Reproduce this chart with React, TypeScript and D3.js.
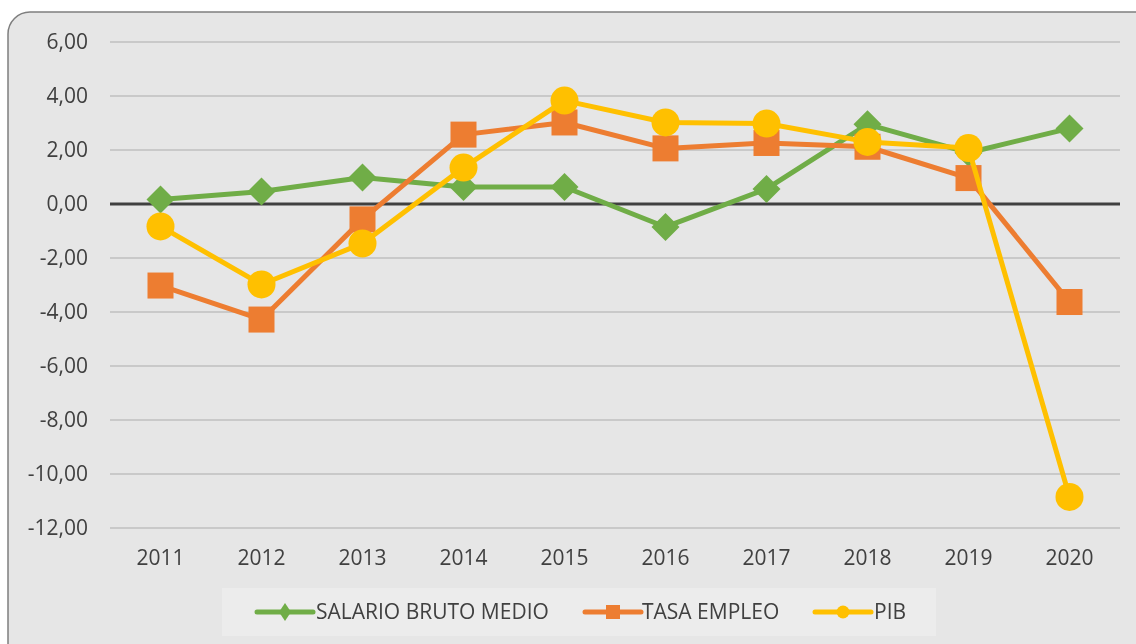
import React from 'react';
import * as d3 from 'd3';

const years = ['2011', '2012', '2013', '2014', '2015', '2016', '2017', '2018', '2019', '2020'];
const salario = [0.17, 0.46, 0.98, 0.63, 0.63, -0.85, 0.56, 2.95, 1.9, 2.8];
const tasaEmpleo = [-3.02, -4.28, -0.57, 2.57, 3.02, 2.06, 2.26, 2.12, 0.96, -3.63];
const pib = [-0.83, -2.98, -1.46, 1.35, 3.83, 3.02, 2.98, 2.3, 2.07, -10.85];
const yTicks = [6, 4, 2, 0, -2, -4, -6, -8, -10, -12];

const W = 1136;
const H = 644;
const font = '"Open Sans", sans-serif';

const series = [
  { name: 'SALARIO BRUTO MEDIO', values: salario, color: '#70ad47', marker: 'diamond' },
  { name: 'TASA EMPLEO', values: tasaEmpleo, color: '#ed7d31', marker: 'square' },
  { name: 'PIB', values: pib, color: '#ffc000', marker: 'circle' },
];

const Marker: React.FC<{ kind: string; x: number; y: number; color: string; s: number; sx?: number }> = ({ kind, x, y, color, s, sx }) => {
  if (kind === 'diamond') {
    const w = sx ?? s;
    return <path d={`M${x},${y - s}L${x + w},${y}L${x},${y + s}L${x - w},${y}Z`} fill={color} />;
  }
  if (kind === 'square') {
    return <rect x={x - s} y={y - s} width={s * 2} height={s * 2} fill={color} />;
  }
  return <circle cx={x} cy={y} r={s} fill={color} />;
};

const App: React.FC = () => {
  const x = d3.scaleBand<string>().domain(years).range([110, 1120]);
  const y = d3.scaleLinear().domain([-12, 6]).range([528, 42]);
  const fmt = (v: number) => d3.format('.2f')(v).replace('.', ',').replace('−', '-');

  const line = d3.line<number>()
    .x((_, i) => (x(years[i]) as number) + x.bandwidth() / 2)
    .y((d) => y(d));

  const legendItems = [
    { lx: 257, tx: 316 },
    { lx: 585, tx: 642 },
    { lx: 815, tx: 874 },
  ];

  return (
    <div style={{ position: 'fixed', left: 0, top: 0 }}>
      <svg width={W} height={H} style={{ display: 'block' }}>
        <rect x={8} y={12} width={W + 20} height={H + 20} rx={22} ry={22}
          fill="#e6e6e6" stroke="#7f7f7f" strokeWidth={1.5} />

        {yTicks.map((t) => (
          <g key={t}>
            <line x1={110} x2={1120} y1={y(t)} y2={y(t)}
              stroke={t === 0 ? '#404040' : '#bfbfbf'} strokeWidth={t === 0 ? 3 : 1.5} />
            <text x={88} y={y(t)} dy="0.35em" textAnchor="end" fontFamily={font} fontSize={21} fill="#404040">
              {fmt(t)}
            </text>
          </g>
        ))}

        {years.map((yr) => (
          <text key={yr} x={(x(yr) as number) + x.bandwidth() / 2} y={558} dy="0.35em" textAnchor="middle"
            fontFamily={font} fontSize={21} fill="#404040">
            {yr}
          </text>
        ))}

        {series.map((s) => (
          <g key={s.name}>
            <path d={line(s.values) || ''} fill="none" stroke={s.color} strokeWidth={5} strokeLinejoin="round" />
            {s.values.map((v, i) => (
              <Marker key={i} kind={s.marker} x={(x(years[i]) as number) + x.bandwidth() / 2} y={y(v)}
                color={s.color} s={s.marker === 'square' ? 13 : 14} />
            ))}
          </g>
        ))}

        <rect x={222} y={588} width={714} height={48} fill="#ececec" />
        {series.map((s, i) => {
          const it = legendItems[i];
          return (
            <g key={s.name}>
              <line x1={it.lx} x2={it.lx + 56} y1={612} y2={612} stroke={s.color} strokeWidth={5} strokeLinecap="round" />
              <Marker kind={s.marker} x={it.lx + 28} y={612} color={s.color}
                s={s.marker === 'circle' ? 6.5 : s.marker === 'square' ? 7 : 9} sx={6} />
              <text x={it.tx} y={612} dy="0.35em" fontFamily={font} fontSize={21} fill="#404040">{s.name}</text>
            </g>
          );
        })}
      </svg>
    </div>
  );
};

export default App;
